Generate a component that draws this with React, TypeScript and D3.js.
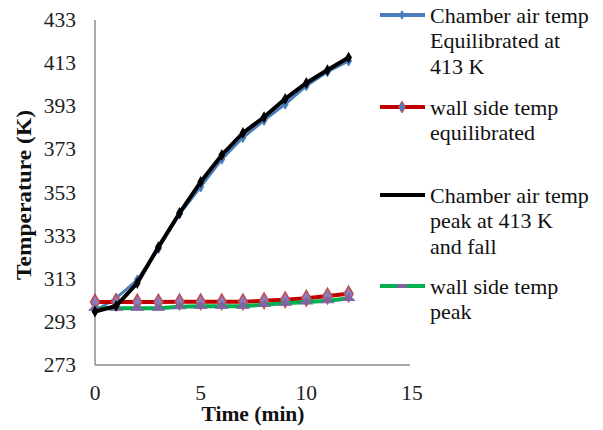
import React from "react";
import * as d3 from "d3";

const times = [0, 1, 2, 3, 4, 5, 6, 7, 8, 9, 10, 11, 12];
const chamberEquil = [298, 304, 312.4, 327, 343, 355.6, 368.5, 378.5, 386.5, 394, 402.5, 409, 414];
const wallEquil = [302.2, 302.2, 302.2, 302.2, 302.3, 302.3, 302.3, 302.3, 302.8, 303.3, 304, 305, 306];
const chamberPeak = [297.8, 300.4, 311, 327.7, 343.5, 357.9, 370.4, 380.6, 388, 396.4, 403.8, 409.8, 415.6];
const wallPeak = [299.3, 299.3, 299.3, 299.3, 300, 300.2, 300.2, 300.2, 301, 301.6, 302.2, 302.8, 303.8];
const yTicks = [273, 293, 313, 333, 353, 373, 393, 413, 433];
const xTicks = [0, 5, 10, 15];

const legendItems = [
  { lines: ["Chamber air temp", "Equilibrated at", "413 K"], key: "blue" },
  { lines: ["wall side temp", "equilibrated"], key: "red" },
  { lines: ["Chamber air temp", "peak at 413 K", "and fall"], key: "black" },
  { lines: ["wall side temp", "peak"], key: "green" },
];

const font = "'Liberation Serif', 'Times New Roman', serif";

export default function App() {
  const x = d3.scaleLinear().domain([0, 15]).range([95, 412]);
  const y = d3.scaleLinear().domain([273, 433]).range([365, 20]);
  const line = (vals: number[]) =>
    d3.line<number>().x((_, i) => x(times[i])).y((v) => y(v))(vals) || "";
  const diamond = d3.symbol().type(d3.symbolDiamond);
  const tri = d3.symbol().type(d3.symbolTriangle);

  const legendY = [15, 107, 195, 286];
  const lineH = 25.5;

  return (
    <svg width={603} height={430} style={{ position: "absolute", left: 0, top: 0, background: "#fff" }}>
      {/* axes */}
      <line x1={95} y1={20} x2={95} y2={365} stroke="#8c8c8c" strokeWidth={1.5} />
      <line x1={95} y1={365} x2={410} y2={365} stroke="#8c8c8c" strokeWidth={1.5} />
      {yTicks.map((t) => (
        <text key={t} x={76} y={y(t)} textAnchor="end" dominantBaseline="central" fontFamily={font} fontSize={21.5} fill="#222">
          {t}
        </text>
      ))}
      {xTicks.map((t) => (
        <text key={t} x={x(t)} y={400} textAnchor="middle" fontFamily={font} fontSize={21.5} fill="#222">
          {t}
        </text>
      ))}
      <text x={253} y={421} textAnchor="middle" fontFamily={font} fontSize={21} fontWeight="bold" fill="#111" textLength={103} lengthAdjust="spacingAndGlyphs">
        Time (min)
      </text>
      <text transform="translate(31,195) rotate(-90)" textAnchor="middle" fontFamily={font} fontSize={21} fontWeight="bold" fill="#111" textLength={170} lengthAdjust="spacingAndGlyphs">
        Temperature (K)
      </text>

      {/* series */}
      <path d={line(chamberEquil)} fill="none" stroke="#4a7ebb" strokeWidth={3} />
      {chamberEquil.map((v, i) => (
        <path key={"b" + i} d={diamond.size(30)() || ""} transform={`translate(${x(times[i])},${y(v)})`} fill="#4a7ebb" stroke="#4a7ebb" />
      ))}
      <path d={line(wallEquil)} fill="none" stroke="#c00000" strokeWidth={4} />
      {wallEquil.map((v, i) => (
        <path key={"r" + i} d={diamond.size(70)() || ""} transform={`translate(${x(times[i])},${y(v)})`} fill="#8a7cc0" stroke="#c0504d" strokeWidth={1.5} />
      ))}
      <path d={line(wallPeak)} fill="none" stroke="#00b050" strokeWidth={4} />
      {wallPeak.map((v, i) => (
        <path key={"g" + i} d={tri.size(45)() || ""} transform={`translate(${x(times[i])},${y(v)}) scale(1.2,0.7)`} fill="#8064a2" stroke="#8064a2" />
      ))}
      <path d={line(chamberPeak)} fill="none" stroke="#000" strokeWidth={4} />
      {chamberPeak.map((v, i) => (
        <path key={"k" + i} d={diamond.size(40)() || ""} transform={`translate(${x(times[i])},${y(v)})`} fill="#000" />
      ))}

      {/* legend */}
      {legendItems.map((it, k) => {
        const ly = legendY[k];
        return (
          <g key={it.key}>
            {it.key === "blue" && (
              <>
                <line x1={380} x2={425} y1={ly} y2={ly} stroke="#4a7ebb" strokeWidth={4} />
                <path d={diamond.size(30)() || ""} transform={`translate(402,${ly})`} fill="#4a7ebb" />
              </>
            )}
            {it.key === "red" && (
              <>
                <line x1={380} x2={425} y1={ly} y2={ly} stroke="#c00000" strokeWidth={4} />
                <path d={diamond.size(40)() || ""} transform={`translate(402,${ly})`} fill="#4a7ebb" stroke="#c0504d" />
              </>
            )}
            {it.key === "black" && <line x1={380} x2={425} y1={ly} y2={ly} stroke="#000" strokeWidth={4} />}
            {it.key === "green" && (
              <>
                <line x1={380} x2={425} y1={ly} y2={ly} stroke="#00b050" strokeWidth={4} />
                <rect x={397} y={ly - 2} width={10} height={4} fill="#8064a2" />
              </>
            )}
            {it.lines.map((s, j) => (
              <text key={j} x={430} y={ly + j * lineH} dominantBaseline="central" fontFamily={font} fontSize={22} fill="#111">
                {s}
              </text>
            ))}
          </g>
        );
      })}
    </svg>
  );
}
